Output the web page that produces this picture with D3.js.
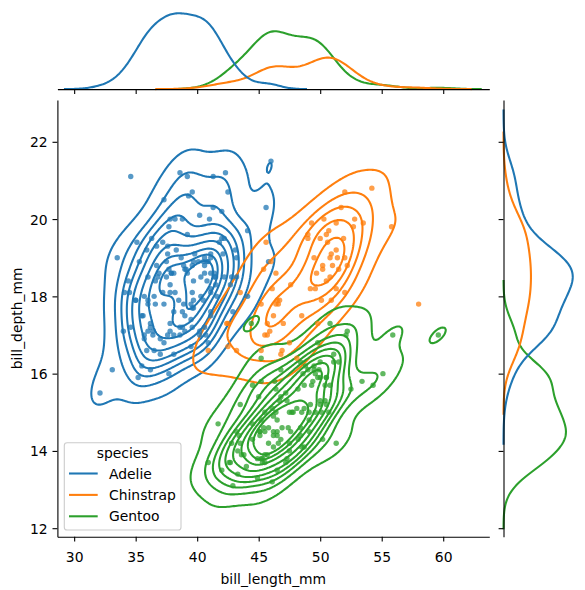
<!DOCTYPE html>
<html><head><meta charset="utf-8">
<script src="https://cdn.jsdelivr.net/npm/d3@7"></script>
<style>body{margin:0;background:#fff}svg{display:block}text{font-family:"DejaVu Sans",sans-serif;fill:#000}</style>
</head><body><svg id="c" width="585" height="590"></svg>
<script>
const species = ["Adelie", "Chinstrap", "Gentoo"];
const colors = ["#1f77b4", "#ff7f0e", "#2ca02c"];

const adelieLength = [39.1,39.5,40.3,36.7,39.3,38.9,39.2,34.1,42.0,37.8,37.8,41.1,38.6,34.6,36.6,38.7,42.5,34.4,46.0,
37.8,37.7,35.9,38.2,38.8,35.3,40.6,40.5,37.9,40.5,
39.5,37.2,39.5,40.9,36.4,39.2,38.8,42.2,37.6,39.8,36.5,40.8,36.0,44.1,37.0,39.6,41.1,37.5,36.0,42.3,
39.6,40.1,35.0,42.0,34.5,41.4,39.0,40.6,36.5,37.6,35.7,41.3,37.6,41.1,36.4,41.6,35.5,41.1,
35.9,41.8,33.5,39.7,39.6,45.8,35.5,42.8,40.9,37.2,36.2,42.1,34.6,42.9,36.7,35.1,
37.3,41.3,36.3,36.9,38.3,38.9,35.7,41.1,34.0,39.6,36.2,40.8,38.1,40.3,33.1,43.2,
35.0,41.0,37.7,37.8,37.9,39.7,38.6,38.2,38.1,43.2,38.1,45.6,39.7,42.2,39.6,42.7,
38.6,37.3,35.7,41.1,36.2,37.7,40.2,41.4,35.2,40.6,38.8,41.5,39.0,44.1,38.5,43.1,
36.8,37.5,38.1,41.1,35.6,40.2,37.0,39.7,40.2,40.6,32.1,40.7,37.3,39.0,39.2,36.6,36.0,37.8,36.0,41.5];
const adelieDepth = [18.7,17.4,18.0,19.3,20.6,17.8,19.6,18.1,20.2,17.1,17.3,17.6,21.2,21.1,17.8,19.0,20.7,18.4,21.5,
18.3,18.7,19.2,18.1,17.2,18.9,18.6,17.9,18.6,18.9,
16.7,18.1,17.8,18.9,17.0,21.1,20.0,18.5,19.3,19.1,18.0,18.4,18.5,19.7,16.9,18.8,19.0,18.9,17.9,21.2,
17.7,18.9,17.9,19.5,18.1,18.6,17.5,18.8,16.6,19.1,16.9,21.1,17.0,18.2,17.1,18.0,16.2,19.1,
16.6,19.4,19.0,18.4,17.2,18.9,17.5,18.5,16.8,19.4,16.1,19.1,17.2,17.6,18.8,19.4,
17.8,20.3,19.5,18.6,19.2,18.8,18.0,18.1,17.1,18.1,17.3,18.9,18.6,18.5,16.1,18.5,
17.9,20.0,16.0,20.0,18.6,18.9,17.2,20.0,17.0,19.0,16.5,20.3,17.7,19.5,20.7,18.3,
17.0,20.5,17.0,18.6,17.2,19.8,17.0,18.5,15.9,19.0,17.6,18.3,17.1,18.0,17.9,19.2,
18.5,18.5,17.6,17.5,17.5,20.1,16.5,17.9,17.1,17.2,15.5,17.0,16.8,18.7,18.6,18.4,17.8,18.1,17.1,18.5];

const chinstrapLength = [46.5,50.0,51.3,45.4,52.7,45.2,46.1,51.3,46.0,51.3,46.6,51.7,47.0,52.0,45.9,50.5,50.3,58.0,46.4,49.2,
42.4,48.5,43.2,50.6,46.7,52.0,50.5,49.5,46.4,52.8,40.9,54.2,42.5,51.0,49.7,47.5,47.6,52.0,46.9,53.5,
49.0,46.2,50.9,45.5,50.9,50.8,50.1,49.0,51.5,49.8,48.1,51.4,45.7,50.7,42.5,52.2,45.2,49.3,50.2,45.6,
51.9,46.8,45.7,55.8,43.5,49.6,50.8,50.2];
const chinstrapDepth = [17.9,19.5,19.2,18.7,19.8,17.8,18.2,18.2,18.9,19.9,17.8,20.3,17.3,18.1,17.1,19.6,20.0,17.8,18.6,18.2,
17.3,17.5,16.6,19.4,17.9,19.0,18.4,19.0,17.8,20.0,16.6,20.8,16.7,18.8,18.6,16.8,18.3,20.7,16.6,19.9,
19.5,17.5,19.1,17.0,17.9,18.5,17.9,19.6,18.7,17.3,16.4,19.0,17.3,19.7,17.3,18.8,16.6,19.9,18.8,19.4,
19.5,16.5,17.0,19.8,18.1,18.2,19.0,18.7];

const gentooLength = [46.1,50.0,48.7,50.0,47.6,46.5,45.4,46.7,43.3,46.8,40.9,49.0,45.5,48.4,45.8,49.3,42.0,49.2,46.2,48.7,
50.2,45.1,46.5,46.3,42.9,46.1,44.5,47.8,48.2,50.0,47.3,42.8,45.1,59.6,49.1,48.4,42.6,44.4,44.0,48.7,
42.7,49.6,45.3,49.6,50.5,43.6,45.5,50.5,44.9,45.2,46.6,48.5,45.1,50.1,46.5,45.0,43.8,45.5,43.2,50.4,
45.3,46.2,45.7,54.3,45.8,49.8,46.2,49.5,43.5,50.7,47.7,46.4,48.2,46.5,46.4,48.6,47.5,51.1,45.2,45.2,
49.1,52.5,47.4,50.0,44.9,50.8,43.4,51.3,47.5,52.1,47.5,52.2,45.5,49.5,44.5,50.8,49.4,46.9,48.4,51.1,
48.5,55.9,47.2,49.1,47.3,46.8,41.7,53.4,43.3,48.1,50.5,49.8,43.5,51.5,46.2,55.1,44.5,48.8,47.2,46.8,
50.4,45.2,49.9];
const gentooDepth = [13.2,16.3,14.1,15.2,14.5,13.5,14.6,15.3,13.4,15.4,13.7,16.1,13.7,14.6,14.6,15.7,13.5,15.2,14.5,15.1,
14.3,14.5,14.5,15.8,13.1,15.1,14.3,15.0,14.3,15.3,15.3,14.2,14.5,17.0,14.8,16.3,13.7,17.3,13.6,15.7,
13.7,16.0,13.7,15.0,15.9,13.9,13.9,15.9,13.3,15.8,14.2,14.1,14.4,15.0,14.4,15.4,13.9,15.0,14.5,15.3,
13.8,14.9,13.9,15.7,14.2,16.8,14.4,16.2,14.2,15.0,15.0,15.6,15.6,14.8,15.0,16.0,14.2,16.3,13.8,16.4,
14.5,15.6,14.6,15.9,13.8,17.3,14.4,14.2,14.0,17.0,15.0,17.1,14.5,16.1,14.7,15.7,15.8,14.6,14.4,16.5,
15.0,17.0,15.5,15.0,13.8,16.1,14.7,15.8,14.0,15.1,15.2,15.9,15.2,16.3,14.1,16.0,15.7,16.2,13.7,14.3,
15.7,14.8,16.1];

const xTicks = [30, 35, 40, 45, 50, 55, 60];
const yTicks = [12, 14, 16, 18, 20, 22];
const xLabel = "bill_length_mm", yLabel = "bill_depth_mm", legendTitle = "species";

const groups = [
  {name: species[0], color: colors[0], x: adelieLength, y: adelieDepth},
  {name: species[1], color: colors[1], x: chinstrapLength, y: chinstrapDepth},
  {name: species[2], color: colors[2], x: gentooLength, y: gentooDepth}
];
const total = d3.sum(groups, g => g.x.length);
const GRID = 200, CUT = 3;

function variance(a) { const m = d3.mean(a); return d3.sum(a, v => (v - m) * (v - m)) / (a.length - 1); }
function linspace(a, b, n) { return d3.range(n).map(i => a + (b - a) * i / (n - 1)); }

// bivariate gaussian KDE (scott)
function kde2d(g) {
  const xs = g.x, ys = g.y, N = xs.length;
  const mx = d3.mean(xs), my = d3.mean(ys);
  let sxx = 0, syy = 0, sxy = 0;
  for (let k = 0; k < N; k++) { const a = xs[k] - mx, b = ys[k] - my; sxx += a * a; syy += b * b; sxy += a * b; }
  const f2 = Math.pow(N, -2 / 6);
  const cxx = sxx / (N - 1) * f2, cyy = syy / (N - 1) * f2, cxy = sxy / (N - 1) * f2;
  const det = cxx * cyy - cxy * cxy;
  const ixx = cyy / det, iyy = cxx / det, ixy = -cxy / det;
  const norm = 1 / (2 * Math.PI * Math.sqrt(det)) / N * (N / total);
  const bx = Math.sqrt(cxx), by = Math.sqrt(cyy);
  const gx = linspace(d3.min(xs) - CUT * bx, d3.max(xs) + CUT * bx, GRID);
  const gy = linspace(d3.min(ys) - CUT * by, d3.max(ys) + CUT * by, GRID);
  const vals = new Float64Array(GRID * GRID);
  for (let j = 0; j < GRID; j++) {
    for (let i = 0; i < GRID; i++) {
      let s = 0;
      for (let k = 0; k < N; k++) {
        const a = gx[i] - xs[k], b = gy[j] - ys[k];
        s += Math.exp(-0.5 * (ixx * a * a + 2 * ixy * a * b + iyy * b * b));
      }
      vals[j * GRID + i] = s * norm;
    }
  }
  return {gx, gy, vals};
}
function kde1d(a) {
  const N = a.length, bw = Math.sqrt(variance(a)) * Math.pow(N, -1 / 5);
  const grid = linspace(d3.min(a) - CUT * bw, d3.max(a) + CUT * bw, GRID);
  const c = 1 / (N * bw * Math.sqrt(2 * Math.PI)) * (N / total);
  return grid.map(t => [t, c * d3.sum(a, v => Math.exp(-0.5 * ((t - v) / bw) ** 2))]);
}

groups.forEach(g => { g.k2 = kde2d(g); g.mx = kde1d(g.x); g.my = kde1d(g.y); });

// common iso-proportion levels
const isoprop = linspace(0.05, 1, 10);
const all = new Float64Array(GRID * GRID * groups.length);
groups.forEach((g, gi) => all.set(g.k2.vals, gi * GRID * GRID));
const sorted = Float64Array.from(all).sort().reverse();
const sumAll = d3.sum(sorted);
const cum = new Float64Array(sorted.length);
{ let s = 0; for (let i = 0; i < sorted.length; i++) { s += sorted[i]; cum[i] = s / sumAll; } }
const levels = isoprop.map(p => {
  const idx = d3.bisectLeft(cum, 1 - p);
  return sorted[Math.min(idx, sorted.length - 1)];
}).filter(v => v < sorted[0]);

// layout
const M = {l: 57.4, r: 489.3, t: 100, b: 536.7};
const TOP = {t: 9.5, b: 89.1};
const RIGHT = {l: 503.5, r: 576.2};

const xDom = [d3.min(groups, g => g.k2.gx[0]), d3.max(groups, g => g.k2.gx[GRID - 1])];
const yDom = [d3.min(groups, g => g.k2.gy[0]), d3.max(groups, g => g.k2.gy[GRID - 1])];
const x = d3.scaleLinear().domain(xDom).range([M.l, M.r]);
const y = d3.scaleLinear().domain(yDom).range([M.b, M.t]);
const maxTop = d3.max(groups, g => d3.max(g.mx, d => d[1]));
const maxRight = d3.max(groups, g => d3.max(g.my, d => d[1]));
const yTop = d3.scaleLinear().domain([0, maxTop * 1.05]).range([TOP.b, TOP.t]);
const xRight = d3.scaleLinear().domain([0, maxRight * 1.05]).range([RIGHT.l, RIGHT.r]);

const svg = d3.select("#c");
const LW = 2.08, FS = 13.9, TL = 4.9;

// contours
const contourG = svg.append("g");
groups.forEach(g => {
  const {gx, gy, vals} = g.k2;
  const sx = (gx[GRID - 1] - gx[0]) / (GRID - 1), sy = (gy[GRID - 1] - gy[0]) / (GRID - 1);
  const proj = d3.geoTransform({point: function(px, py) {
    this.stream.point(x(gx[0] + (px - 0.5) * sx), y(gy[0] + (py - 0.5) * sy));
  }});
  const path = d3.geoPath(proj);
  const cs = d3.contours().size([GRID, GRID]).thresholds(levels)(Array.from(vals));
  contourG.selectAll(null).data(cs).join("path")
    .attr("d", path).attr("fill", "none").attr("stroke", g.color)
    .attr("stroke-width", LW).attr("stroke-linejoin", "round");
});

// scatter
const ptsG = svg.append("g");
groups.forEach(g => {
  ptsG.selectAll(null).data(d3.range(g.x.length)).join("circle")
    .attr("cx", i => x(g.x[i])).attr("cy", i => y(g.y[i])).attr("r", 2.7)
    .attr("fill", g.color).attr("fill-opacity", 0.75);
});

// marginals (reverse order)
const lineTop = d3.line().x(d => x(d[0])).y(d => yTop(d[1]));
const lineRight = d3.line().x(d => xRight(d[1])).y(d => y(d[0]));
groups.slice().reverse().forEach(g => {
  svg.append("path").attr("d", lineTop(g.mx)).attr("fill", "none").attr("stroke", g.color).attr("stroke-width", LW);
  svg.append("path").attr("d", lineRight(g.my)).attr("fill", "none").attr("stroke", g.color).attr("stroke-width", LW);
});

// axes
function styleAxis(sel) {
  sel.selectAll(".domain").attr("stroke", "#000").attr("stroke-width", 1.1);
  sel.selectAll(".tick line").attr("stroke", "#000").attr("stroke-width", 1.1);
  sel.selectAll("text").attr("font-size", FS).attr("font-family", "DejaVu Sans, sans-serif").attr("fill", "#000");
}
const ax = svg.append("g").attr("transform", `translate(0,${M.b})`)
  .call(d3.axisBottom(x).tickValues(xTicks).tickSize(TL).tickPadding(7).tickSizeOuter(0));
styleAxis(ax);
ax.selectAll("text").attr("dy", null).attr("y", 25.3);
const ay = svg.append("g").attr("transform", `translate(${M.l},0)`)
  .call(d3.axisLeft(y).tickValues(yTicks).tickSize(TL).tickPadding(4.9).tickSizeOuter(0));
styleAxis(ay);
ay.selectAll("text").attr("dy", "0.36em");
const axTop = svg.append("g").attr("transform", `translate(0,${TOP.b})`)
  .call(d3.axisBottom(x).tickValues(xTicks).tickSize(TL).tickFormat("").tickSizeOuter(0));
styleAxis(axTop);
const ayRight = svg.append("g").attr("transform", `translate(${RIGHT.l},0)`)
  .call(d3.axisLeft(y).tickValues(yTicks).tickSize(TL).tickFormat("").tickSizeOuter(0));
styleAxis(ayRight);

svg.append("text").attr("x", (M.l + M.r) / 2).attr("y", 583.5).attr("text-anchor", "middle")
  .attr("font-size", FS).text(xLabel);
svg.append("text").attr("transform", `translate(21.5,${(M.t + M.b) / 2}) rotate(-90)`)
  .attr("text-anchor", "middle").attr("font-size", FS).text(yLabel);

// legend
const lg = svg.append("g");
lg.append("rect").attr("x", 64.3).attr("y", 442.7).attr("width", 116.7).attr("height", 87.3)
  .attr("rx", 2.8).attr("fill", "#fff").attr("fill-opacity", 0.8).attr("stroke", "#cccccc").attr("stroke-width", 1.1);
lg.append("text").attr("x", 122.6).attr("y", 458.2).attr("text-anchor", "middle").attr("font-size", FS).text(legendTitle);
groups.forEach((g, i) => {
  const cy = 473.5 + i * 21.4;
  lg.append("line").attr("x1", 69).attr("x2", 97.7).attr("y1", cy).attr("y2", cy)
    .attr("stroke", g.color).attr("stroke-width", LW);
  lg.append("text").attr("x", 109).attr("y", cy + 5).attr("font-size", FS).text(g.name);
});
</script></body></html>
